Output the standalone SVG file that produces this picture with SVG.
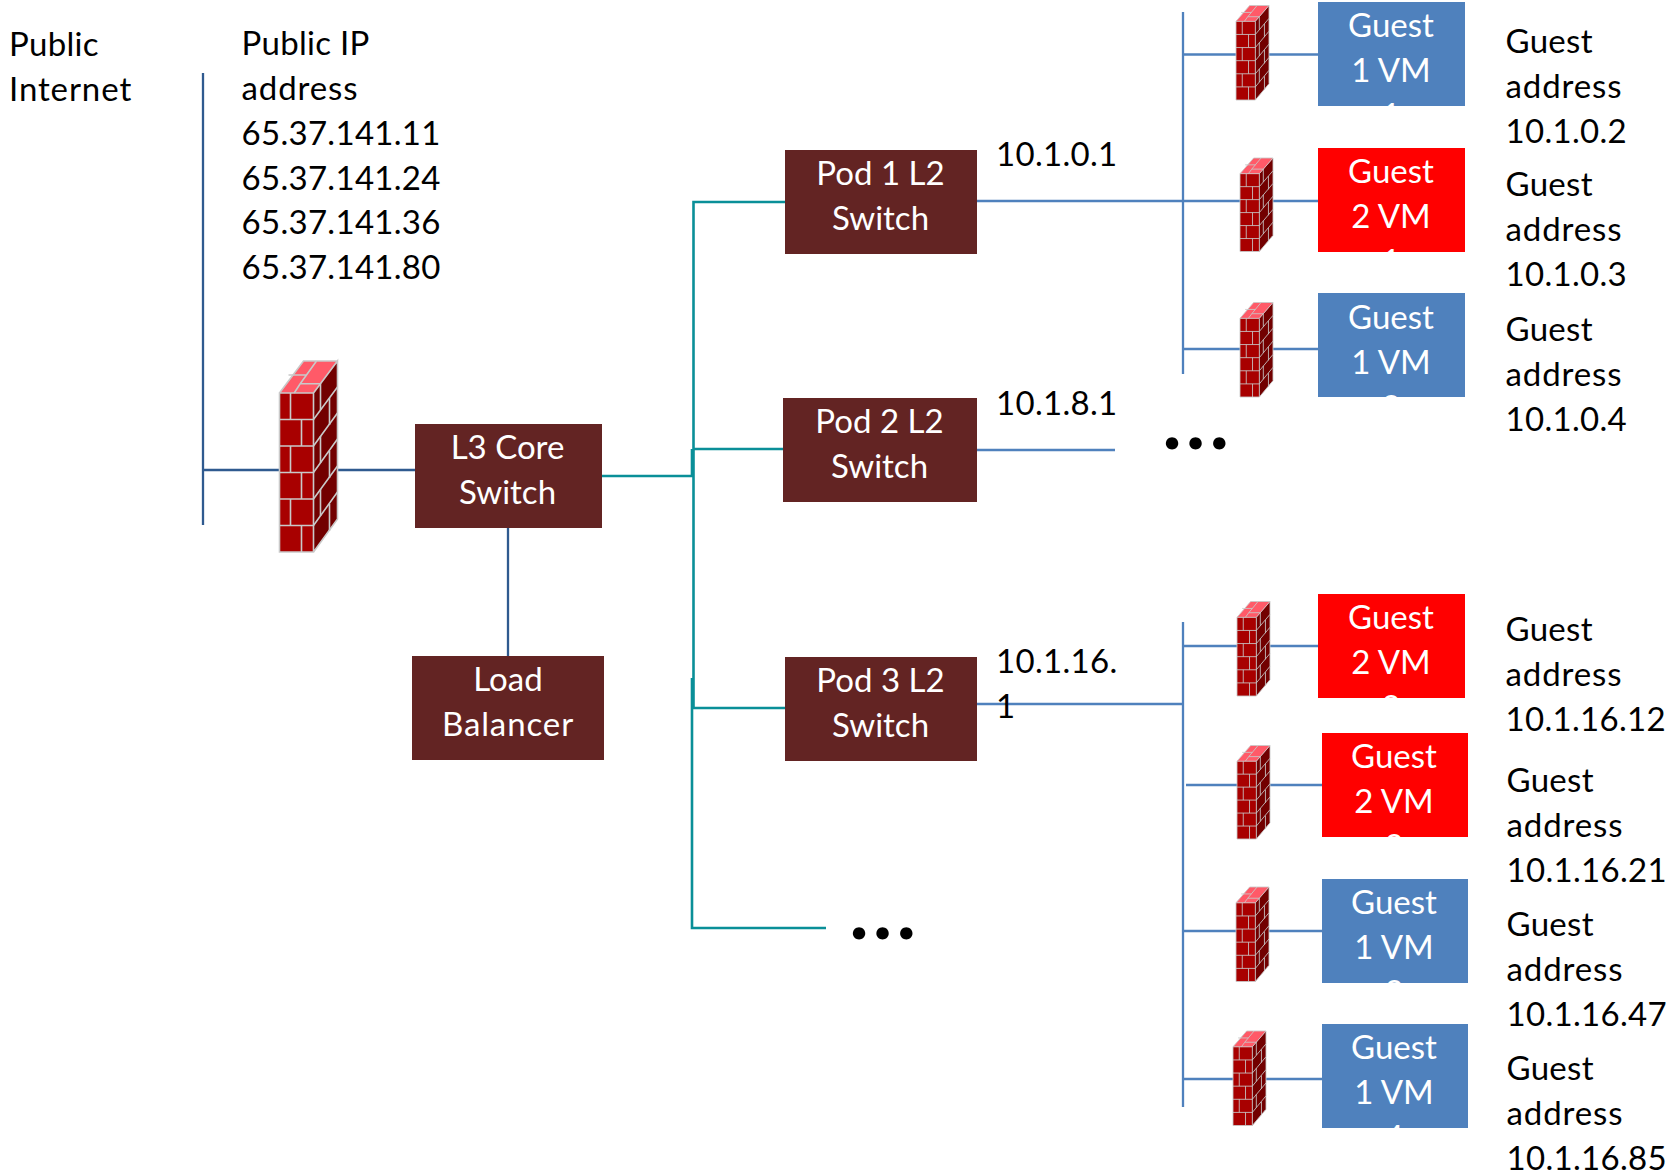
<svg xmlns="http://www.w3.org/2000/svg" width="1675" height="1175" viewBox="0 0 1675 1175">
<style>
text{font-family:"Lato","Liberation Sans",sans-serif;font-size:33px}
.lbl{fill:#000;letter-spacing:.3px}
.wide{letter-spacing:.9px}
.wh{fill:#fff;text-anchor:middle}
.sw{fill:#632423}
.blue{fill:#4f81bd}
.red{fill:#f00}
.c{fill:none;stroke-width:2.3}
.b{stroke:#4f81bd}
.t{stroke:#0a8f98;stroke-width:2.6}
.n{stroke:#2f5a8f}
.dots{font-weight:900;font-size:76px;letter-spacing:5.500px}
</style>
<defs>
<symbol id="fw" viewBox="0 0 58 192" preserveAspectRatio="none" overflow="visible">
<polygon points="0,32 34,32 34,191 0,191" fill="#a80000"/>
<polygon points="34,32 58,0 58,158 34,191" fill="#720000"/>
<polygon points="0,32 24,0 58,0 34,32" fill="#ff5a68"/>
<g fill="none" stroke="#c9c9c9" stroke-width="1.6">
<path d="M0,32H34V191H0ZM34,32L58,0V158L34,191M0,32L24,0H58"/>
<path d="M0,58.500H34M0,85H34M0,111.500H34M0,138H34M0,164.500H34"/>
<path d="M11,32V58.500M22,58.500V85M11,85V111.500M22,111.500V138M11,138V164.500M22,164.500V191"/>
<path d="M34,58.500L58,26M34,85L58,52M34,111.500L58,78M34,138L58,105M34,164.500L58,131"/>
<path d="M41,22.500V49M50,37V64M41,75V102M50,90V117M41,128V155M50,143V170"/>
<path d="M20.700,22.700L14.700,32M20.700,22.700H41M20.700,22.700L37,0M9,14H27"/>
</g>
</symbol>
</defs>
<g id="connectors">
<path class="c n" d="M203,73V525M203,470H415M508,528V656"/>
<path class="c t" d="M602,476H692V449M693.500,708V202H785M693,449H783M692,678V928H826M692,708H785"/>
<path class="c b" d="M1183,12V374M1183,54.500H1318M977,201H1318M1183,349H1318M977,450H1115M977,704H1183M1183,622V1107M1183,646H1318M1186,785H1322M1183,931H1322M1183,1079H1322"/>
</g>
<g id="firewall-main"><use href="#fw" x="279.500" y="361" width="58" height="192"/></g>
<g id="firewall-1"><use href="#fw" x="1236" y="5.500" width="33" height="95"/></g>
<g id="firewall-2"><use href="#fw" x="1240" y="158" width="33" height="94"/></g>
<g id="firewall-3"><use href="#fw" x="1240" y="302.500" width="33" height="95"/></g>
<g id="firewall-4"><use href="#fw" x="1237" y="601.500" width="33" height="95"/></g>
<g id="firewall-5"><use href="#fw" x="1237" y="745.500" width="33" height="94"/></g>
<g id="firewall-6"><use href="#fw" x="1236" y="887" width="33" height="95"/></g>
<g id="firewall-7"><use href="#fw" x="1233" y="1031" width="33" height="95"/></g>
<g id="l3-core"><rect class="sw" x="415" y="424" width="187" height="104"/><text class="wh" x="507.500" y="459">L3 Core</text><text class="wh" x="507.500" y="504">Switch</text></g>
<g id="load-balancer"><rect class="sw" x="412" y="656" width="192" height="104"/><text class="wh" x="508" y="691">Load</text><text class="wh wide" x="508" y="736">Balancer</text></g>
<g id="pod-1"><rect class="sw" x="785" y="150" width="192" height="104"/><text class="wh" x="880.500" y="185">Pod 1 L2</text><text class="wh" x="880.500" y="230">Switch</text></g>
<g id="pod-2"><rect class="sw" x="783" y="398" width="194" height="104"/><text class="wh" x="879.500" y="433">Pod 2 L2</text><text class="wh" x="879.500" y="478">Switch</text></g>
<g id="pod-3"><rect class="sw" x="785" y="657" width="192" height="104"/><text class="wh" x="880.500" y="692">Pod 3 L2</text><text class="wh" x="880.500" y="737">Switch</text></g>
<g id="guest-1"><rect class="blue" x="1318" y="2" width="147" height="104"/><text class="wh" x="1391" y="37">Guest</text><text class="wh" x="1391" y="82">1 VM</text><text class="wh" x="1391" y="127">1</text></g>
<g id="guest-2"><rect class="red" x="1318" y="148" width="147" height="104"/><text class="wh" x="1391" y="183">Guest</text><text class="wh" x="1391" y="228">2 VM</text><text class="wh" x="1391" y="273">1</text></g>
<g id="guest-3"><rect class="blue" x="1318" y="293" width="147" height="104"/><text class="wh" x="1391" y="329">Guest</text><text class="wh" x="1391" y="374">1 VM</text><text class="wh" x="1391" y="419">2</text></g>
<g id="guest-4"><rect class="red" x="1318" y="594" width="147" height="104"/><text class="wh" x="1391" y="629">Guest</text><text class="wh" x="1391" y="674">2 VM</text><text class="wh" x="1391" y="719">2</text></g>
<g id="guest-5"><rect class="red" x="1322" y="733" width="146" height="104"/><text class="wh" x="1394" y="768">Guest</text><text class="wh" x="1394" y="813">2 VM</text><text class="wh" x="1394" y="858">3</text></g>
<g id="guest-6"><rect class="blue" x="1322" y="879" width="146" height="104"/><text class="wh" x="1394" y="914">Guest</text><text class="wh" x="1394" y="959">1 VM</text><text class="wh" x="1394" y="1004">3</text></g>
<g id="guest-7"><rect class="blue" x="1322" y="1024" width="146" height="104"/><text class="wh" x="1394" y="1059">Guest</text><text class="wh" x="1394" y="1104">1 VM</text><text class="wh" x="1394" y="1149">4</text></g>
<g id="labels">
<text class="lbl" x="9" y="56">Public</text><text class="lbl wide" x="9" y="101">Internet</text>
<text class="lbl" x="241.500" y="55">Public IP</text><text class="lbl wide" x="241.500" y="100">address</text><text class="lbl" x="241.500" y="145">65.37.141.11</text><text class="lbl" x="241.500" y="190">65.37.141.24</text><text class="lbl" x="241.500" y="234">65.37.141.36</text><text class="lbl" x="241.500" y="279">65.37.141.80</text>
<text class="lbl" x="996" y="166">10.1.0.1</text><text class="lbl" x="996" y="415">10.1.8.1</text><text class="lbl" x="996" y="673">10.1.16.</text><text class="lbl" x="996" y="718">1</text>
<text class="lbl" x="1505.500" y="53">Guest</text><text class="lbl wide" x="1505.500" y="98">address</text><text class="lbl" x="1505.500" y="143">10.1.0.2</text>
<text class="lbl" x="1505.500" y="196">Guest</text><text class="lbl wide" x="1505.500" y="241">address</text><text class="lbl" x="1505.500" y="286">10.1.0.3</text>
<text class="lbl" x="1505.500" y="341">Guest</text><text class="lbl wide" x="1505.500" y="386">address</text><text class="lbl" x="1505.500" y="431">10.1.0.4</text>
<text class="lbl" x="1505.500" y="641">Guest</text><text class="lbl wide" x="1505.500" y="686">address</text><text class="lbl" x="1505.500" y="731">10.1.16.12</text>
<text class="lbl" x="1506.500" y="792">Guest</text><text class="lbl wide" x="1506.500" y="837">address</text><text class="lbl" x="1506.500" y="882">10.1.16.21</text>
<text class="lbl" x="1506.500" y="936">Guest</text><text class="lbl wide" x="1506.500" y="981">address</text><text class="lbl" x="1506.500" y="1026">10.1.16.47</text>
<text class="lbl" x="1506.500" y="1080">Guest</text><text class="lbl wide" x="1506.500" y="1125">address</text><text class="lbl" x="1506.500" y="1170">10.1.16.85</text>
<text class="dots" x="1163" y="449">...</text>
<text class="dots" x="850" y="939">...</text>
</g>
</svg>
